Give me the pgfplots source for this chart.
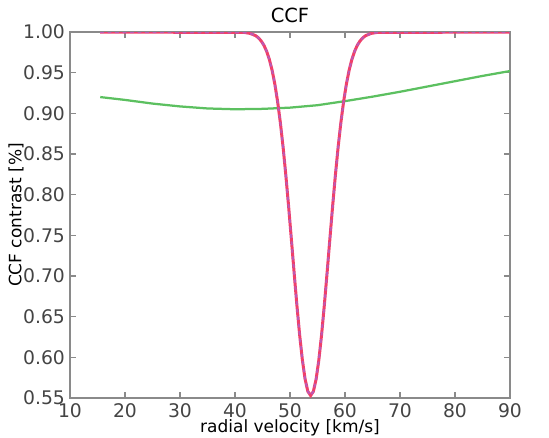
\documentclass[border=0pt]{standalone}
\usepackage{pgfplots}
\pgfplotsset{compat=1.18}
\usepackage{fontspec}
\setmainfont{DejaVu Sans}
\definecolor{txt}{HTML}{444444}
\definecolor{frame}{HTML}{8A8A8A}
\definecolor{ccfred}{HTML}{F0406A}
\definecolor{ccfdash}{HTML}{B060C8}
\definecolor{ccfgreen}{HTML}{5CC060}

\pgfplotstableread{
x y
15.5 1.0
41.75 0.9994
42.75 0.9983
43.75 0.9955
44.25 0.9929
44.75 0.9891
45.25 0.9838
45.75 0.9763
46.25 0.9662
46.75 0.9529
47.25 0.9358
47.75 0.9144
48.25 0.8885
48.75 0.8582
49.25 0.8236
49.75 0.7856
50.25 0.7453
50.75 0.7043
51.25 0.6645
51.75 0.6280
52.25 0.5969
52.75 0.5731
53.25 0.5581
53.75 0.5530
54.25 0.5581
54.75 0.5731
55.25 0.5969
55.75 0.6280
56.25 0.6645
56.75 0.7043
57.25 0.7453
57.75 0.7856
58.25 0.8236
58.75 0.8582
59.25 0.8885
59.75 0.9144
60.25 0.9358
60.75 0.9529
61.25 0.9662
61.75 0.9763
62.25 0.9838
62.75 0.9891
63.25 0.9929
63.75 0.9955
64.75 0.9983
65.75 0.9994
90 1.0
}\ccf

\pgfplotstableread{
x y
15.5 0.9200
20 0.9165
25 0.9120
30 0.9085
35 0.9060
40 0.9050
45 0.9055
50 0.9070
55 0.9100
60 0.9150
65 0.9205
70 0.9265
75 0.9330
80 0.9395
85 0.9460
90 0.9520
}\cont

\begin{document}
\begin{tikzpicture}[font=\fontsize{7.5}{9}\selectfont\color{txt}]
\useasboundingbox (-28pt,-15.6pt) rectangle (191.6pt,159.2pt);
\begin{axis}[
    at={(0,0)}, anchor=south west,
    scale only axis, width=176pt, height=146.4pt,
    xmin=10, xmax=90, ymin=0.55, ymax=1.0,
    xtick={10,20,...,90},
    ytick={0.55,0.60,...,1.001},
    /pgf/number format/fixed,
    /pgf/number format/assume math mode=true,
    yticklabel style={/pgf/number format/fixed zerofill, /pgf/number format/precision=2, xshift=1.5pt},
    tick align=inside,
    major tick length=2.5pt,
    tick style={frame, line width=0.5pt},
    axis line style={frame, line width=0.8pt},
    xticklabel style={yshift=1.5pt},
    title={CCF},
    title style={yshift=-6pt, font=\fontsize{7.8}{9}\selectfont},
    xlabel={radial velocity [km/s]},
    ylabel={CCF contrast [\%]},
    xlabel style={yshift=6pt, font=\fontsize{6.8}{8}\selectfont},
    ylabel style={yshift=-7pt, font=\fontsize{6.8}{8}\selectfont},
    clip=true,
]
\addplot[ccfgreen, line width=0.9pt] table[x=x,y=y] {\cont};
\addplot[ccfred, line width=1.2pt] table[x=x,y=y] {\ccf};
\addplot[ccfdash, line width=0.8pt, dash pattern=on 1.5pt off 1.5pt, opacity=0.8] table[x=x,y=y] {\ccf};
\end{axis}
\end{tikzpicture}
\end{document}
